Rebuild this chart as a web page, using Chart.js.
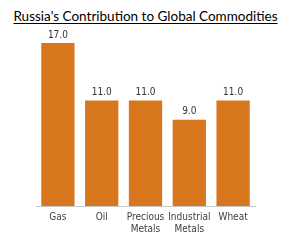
<!DOCTYPE html>
<html>
<head>
<meta charset="utf-8">
<script src="https://cdn.jsdelivr.net/npm/chart.js@4/dist/chart.umd.min.js"></script>
<style>
    html, body { margin: 0; padding: 0; background: #ffffff; }
    #wrap { position: relative; width: 305px; height: 247px; }
    #title {
        position: absolute; left: 0; top: 8px; width: 291px;
        text-align: center; font-family: Lato, sans-serif; font-size: 13.5px;
        white-space: nowrap; color: #000000;
        text-decoration: underline; text-underline-offset: 2px;
    }
    canvas { position: absolute; left: 0; top: 0; }
</style>
</head>
<body>
<div id="wrap">
    <div id="title">Russia's Contribution to Global Commodities</div>
    <canvas id="chart" width="305" height="247"></canvas>
</div>
<script>
const categories = ["Gas", "Oil", ["Precious", "Metals"], ["Industrial", "Metals"], "Wheat"];
const shares = [17, 11, 11, 9, 11];

const labelFont = "'DejaVu Sans Condensed', 'Liberation Sans Narrow', sans-serif";

const valueLabels = {
    id: "valueLabels",
    afterDatasetsDraw(chart) {
        const ctx = chart.ctx;
        const meta = chart.getDatasetMeta(0);
        ctx.save();
        ctx.font = "10px " + labelFont;
        ctx.fillStyle = "#333333";
        ctx.textAlign = "center";
        ctx.textBaseline = "bottom";
        meta.data.forEach((bar, i) => {
            ctx.fillText(shares[i].toFixed(1), bar.x, bar.y - 3);
        });
        ctx.restore();
    },
};

new Chart(document.getElementById("chart"), {
    type: "bar",
    data: {
        labels: categories,
        datasets: [{
            data: shares,
            backgroundColor: "#d8761e",
            borderWidth: 0,
            categoryPercentage: 0.76,
            barPercentage: 1,
        }],
    },
    options: {
        responsive: false,
        animation: false,
        layout: { padding: { left: 36, right: 50, top: 43, bottom: 6 } },
        plugins: { legend: { display: false }, tooltip: { enabled: false } },
        scales: {
            y: { display: false, min: 0, max: 17 },
            x: {
                grid: { display: false, drawTicks: false },
                border: { color: "#c8c8c8", width: 1 },
                ticks: {
                    color: "#404040",
                    padding: 6,
                    maxRotation: 0,
                    autoSkip: false,
                    font: { family: labelFont, size: 10, lineHeight: 1.15 },
                },
            },
        },
    },
    plugins: [valueLabels],
});
</script>
</body>
</html>
